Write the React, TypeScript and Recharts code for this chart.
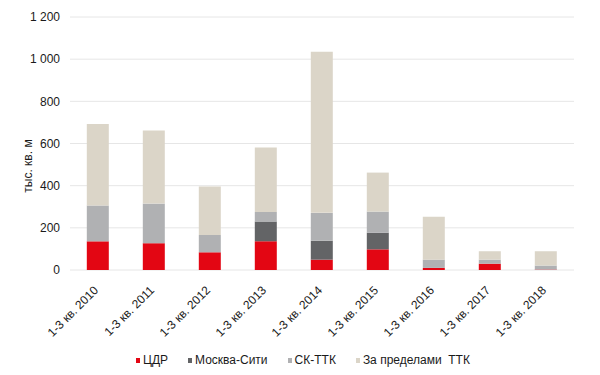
import React from 'react';
import { BarChart, Bar, XAxis, YAxis, CartesianGrid, Legend } from 'recharts';

const periods = [
  '1-3 кв. 2010',
  '1-3 кв. 2011',
  '1-3 кв. 2012',
  '1-3 кв. 2013',
  '1-3 кв. 2014',
  '1-3 кв. 2015',
  '1-3 кв. 2016',
  '1-3 кв. 2017',
  '1-3 кв. 2018',
];

// тыс. кв. м
const cdr = [136, 127, 84, 136, 49, 98, 10, 30, 2];
const moscowCity = [0, 0, 0, 94, 90, 79, 0, 0, 0];
const skTtk = [170, 188, 82, 45, 132, 100, 39, 19, 19];
const outsideTtk = [387, 347, 230, 306, 764, 185, 203, 40, 68];

const yTicks = [0, 200, 400, 600, 800, 1000, 1200];

const series = [
  { key: 'cdr', name: 'ЦДР', color: '#e30613' },
  { key: 'city', name: 'Москва-Сити', color: '#636466' },
  { key: 'sk', name: 'СК-ТТК', color: '#b0b1b3' },
  { key: 'out', name: 'За пределами  ТТК', color: '#dbd5c8' },
];

const data = periods.map((p, i) => ({
  period: p,
  cdr: cdr[i],
  city: moscowCity[i],
  sk: skTtk[i],
  out: outsideTtk[i],
}));

const font = '"Liberation Sans", Arial, sans-serif';
const textColor = '#1a1a1a';

const fmt = (v: number) => (v >= 1000 ? `${Math.floor(v / 1000)} ${String(v % 1000).padStart(3, '0')}` : String(v));

const XTick = (props: any) => {
  const { x, y, payload } = props;
  return (
    <text
      transform={`translate(${x + 1},${y + 13}) rotate(-45)`}
      textAnchor="end"
      fontSize={12}
      fontFamily={font}
      fill={textColor}
    >
      {payload.value}
    </text>
  );
};

const LegendContent = () => (
  <div
    style={{
      display: 'flex',
      alignItems: 'center',
      paddingLeft: 136,
      height: 20,
      fontFamily: font,
      fontSize: 12,
      color: textColor,
    }}
  >
    {series.map((s) => (
      <div key={s.key} style={{ display: 'flex', alignItems: 'center', marginRight: 20 }}>
        <span style={{ display: 'inline-block', width: 4, height: 5, background: s.color, marginRight: 3 }} />
        <span style={{ whiteSpace: 'pre' }}>{s.name}</span>
      </div>
    ))}
  </div>
);

export default function App() {
  return (
    <div style={{ position: 'absolute', left: 0, top: 0, width: 600, height: 375, background: '#fff' }}>
      <BarChart
        width={600}
        height={375}
        data={data}
        margin={{ top: 17, right: 26, bottom: 5, left: 0 }}
        barCategoryGap="30%"
      >
        <CartesianGrid vertical={false} stroke="#e6e6e6" />
        <XAxis
          dataKey="period"
          interval={0}
          axisLine={false}
          tickLine={false}
          height={80}
          tick={<XTick />}
        />
        <YAxis
          width={70}
          domain={[0, 1200]}
          ticks={yTicks}
          tickFormatter={fmt}
          axisLine={false}
          tickLine={false}
          tickMargin={4}
          tick={{ fontSize: 12, fontFamily: font, fill: textColor }}
          label={() => (
            <text
              x={28}
              y={166}
              transform="rotate(-90, 28, 166)"
              textAnchor="middle"
              dominantBaseline="central"
              fontSize={12}
              fontFamily={font}
              fill={textColor}
            >
              тыс. кв. м
            </text>
          )}
        />
        <Legend verticalAlign="bottom" content={<LegendContent />} />
        {series.map((s) => (
          <Bar key={s.key} dataKey={s.key} name={s.name} stackId="a" fill={s.color} isAnimationActive={false} />
        ))}
      </BarChart>
    </div>
  );
}
